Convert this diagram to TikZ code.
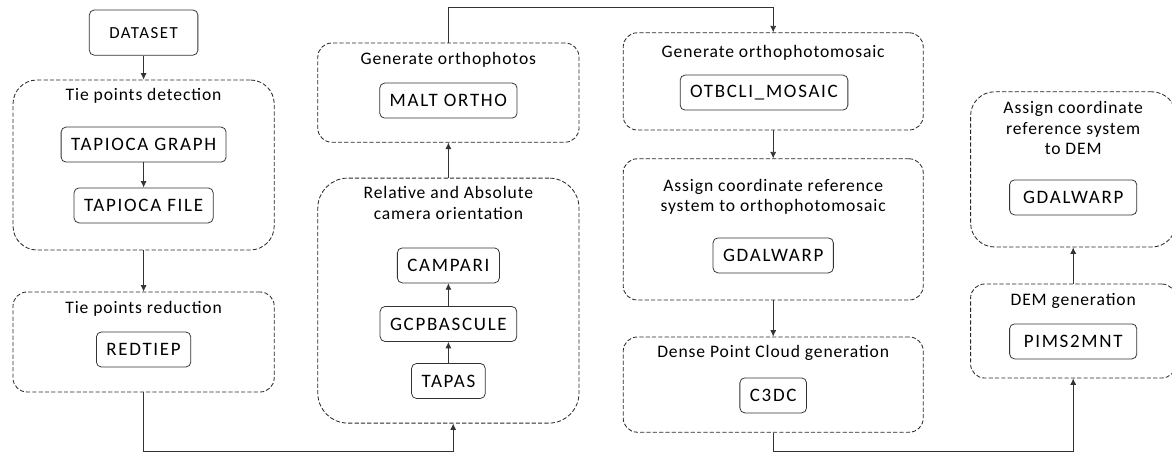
\documentclass[tikz,border=0pt]{standalone}
\usepackage{fontspec}
\setmainfont[LetterSpace=5]{Carlito}
\newfontfamily\toolfont[LetterSpace=9]{Carlito}
\usepackage{tikz}
\usetikzlibrary{arrows.meta,calc,positioning}
\definecolor{lineGrey}{HTML}{333333}
\definecolor{dashGrey}{HTML}{2A2A2A}
\tikzset{
  >={Latex[length=1.6mm,width=1.5mm]},
  every node/.style={font=\fontsize{12.5}{14.5}\selectfont, text=black},
  stagebox/.style={draw=dashGrey, dash pattern=on 3pt off 1.5pt, line width=0.6pt, rounded corners=0.35cm, minimum width=6.53cm},
  stagettl/.style={align=center, inner sep=1pt},
  toolbox/.style={draw=black!80, rounded corners=3.5pt, line width=0.55pt, inner xsep=0.25cm, inner ysep=0pt, minimum height=0.875cm, font=\toolfont\fontsize{13.5}{15}\selectfont},
  flow/.style={->, line width=0.55pt, draw=lineGrey},
}
\begin{document}
\begin{tikzpicture}[x=1cm,y=1cm]
  \useasboundingbox (0,0) rectangle (29.3,11.325);

  % column 1: tie points
  \node[toolbox, inner xsep=0.5cm, minimum height=1.13cm, font=\toolfont\fontsize{12}{14}\selectfont] (dataset) at (3.59,10.51) {DATASET};
  \node[stagebox, minimum height=4.25cm, rounded corners=0.6cm] (detect) at (3.59,7.2) {};
  \node[stagettl] (detectT) at (3.59,8.925) {Tie points detection};
  \node[toolbox] (graph) at (3.59,7.71) {TAPIOCA GRAPH};
  \node[toolbox] (file) at (3.59,6.19) {TAPIOCA FILE};
  \node[stagebox, minimum height=2.5cm] (reduct) at (3.59,2.775) {};
  \node[stagettl] (reductT) at (3.59,3.6) {Tie points reduction};
  \node[toolbox] (redtiep) at (3.59,2.5875) {REDTIEP};

  % column 2: orientation and orthophotos
  \node[stagebox, minimum height=2.48cm] (ortho) at (11.21,9.01) {};
  \node[stagettl] (orthoT) at (11.21,9.825) {Generate orthophotos};
  \node[toolbox] (malt) at (11.21,8.81) {MALT ORTHO};
  \node[stagebox, minimum height=6.125cm, rounded corners=0.75cm] (relative) at (11.21,3.81) {};
  \node[stagettl] (relativeT) at (11.21,6.25) {Relative and Absolute\\camera orientation};
  \node[toolbox] (campari) at (11.21,4.69) {CAMPARI};
  \node[toolbox] (gcp) at (11.21,3.225) {GCPBASCULE};
  \node[toolbox] (tapas) at (11.21,1.8) {TAPAS};

  % column 3: mosaic and point cloud
  \node[stagebox, minimum width=7.5cm, minimum height=2.43cm] (mosaic) at (19.33,9.29) {};
  \node[stagettl] (mosaicT) at (19.33,10.0) {Generate orthophotomosaic};
  \node[toolbox] (otbcli) at (19.1,9.01) {OTBCLI\_MOSAIC};
  \node[stagebox, minimum width=7.5cm, minimum height=3.53cm] (crs) at (19.33,5.59) {};
  \node[stagettl] (crsT) at (19.33,6.41) {Assign coordinate reference\\system to orthophotomosaic};
  \node[toolbox] (warpA) at (19.33,4.94) {GDALWARP};
  \node[stagebox, minimum width=7.5cm, minimum height=2.38cm] (dense) at (19.33,1.71) {};
  \node[stagettl] (denseT) at (19.33,2.5) {Dense Point Cloud generation};
  \node[toolbox] (c3dc) at (19.33,1.44) {C3DC};

  % column 4: DEM
  \node[stagebox, minimum width=5.13cm, minimum height=3.88cm, rounded corners=0.6cm] (crsdem) at (26.83,7.09) {};
  \node[stagettl] (crsdemT) at (26.83,8.125) {Assign coordinate\\reference system\\to DEM};
  \node[toolbox, minimum width=3.18cm] (warpB) at (26.83,6.39) {GDALWARP};
  \node[stagebox, minimum width=5.13cm, minimum height=2.35cm] (dem) at (26.83,3.05) {};
  \node[stagettl] (demT) at (26.83,3.8) {DEM generation};
  \node[toolbox, minimum width=3.18cm] (pims) at (26.83,2.79) {PIMS2MNT};

  % routing points
  \coordinate (lowA) at (11.33,0.05);
  \coordinate (lowB) at (26.83,0.05);
  \coordinate (topA) at (19.33,11.15);

  % connectors
  \draw[flow] (dataset) -- (detect);
  \draw[flow] (graph) -- (file);
  \draw[flow] (detect) -- (reduct);
  \draw[flow] (reduct.south) |- (lowA) -- (lowA |- relative.south);
  \draw[flow] (tapas) -- (gcp);
  \draw[flow] (gcp) -- (campari);
  \draw[flow] (relative) -- (ortho);
  \draw[flow] (ortho.north) |- (topA) -- (mosaic.north);
  \draw[flow] (mosaic) -- (crs);
  \draw[flow] (crs) -- (dense);
  \draw[flow] (dense.south) |- (lowB) -- (dem.south);
  \draw[flow] (dem) -- (crsdem);
\end{tikzpicture}
\end{document}
